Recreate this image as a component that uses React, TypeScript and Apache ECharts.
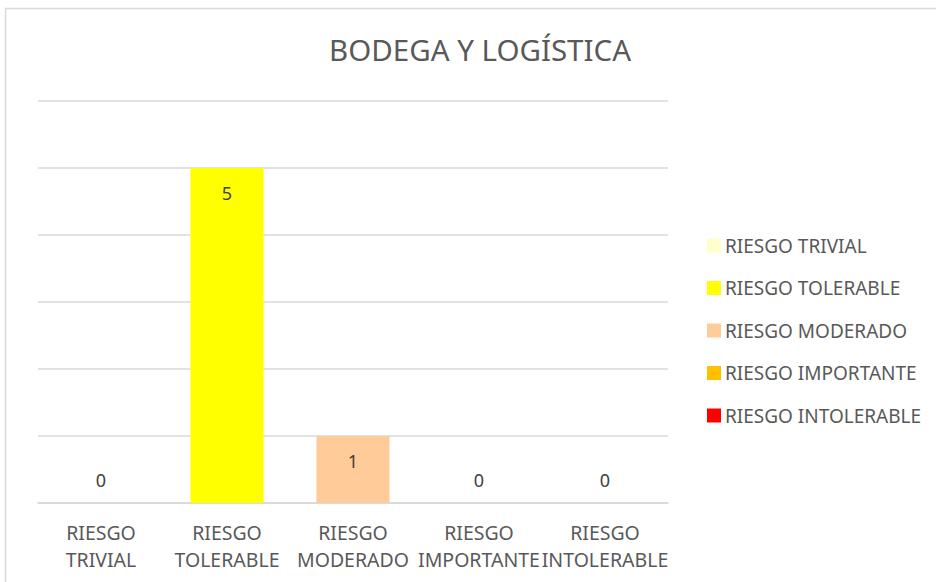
import React, { useEffect, useRef } from "react";
import * as echarts from "echarts";

const categories = ["RIESGO\nTRIVIAL", "RIESGO\nTOLERABLE", "RIESGO\nMODERADO", "RIESGO\nIMPORTANTE", "RIESGO\nINTOLERABLE"];
const seriesNames = ["RIESGO TRIVIAL", "RIESGO TOLERABLE", "RIESGO MODERADO", "RIESGO IMPORTANTE", "RIESGO INTOLERABLE"];
const values = [0, 5, 1, 0, 0];
const colors = ["#FFFFCC", "#FFFF00", "#FFCC99", "#FFC000", "#FF0000"];
const yTicks = [0, 1, 2, 3, 4, 5, 6];

const FONT = "'Noto Sans', sans-serif";

export default function App() {
  const ref = useRef<HTMLDivElement>(null);
  useEffect(() => {
    document.body.style.margin = "0";
    const chart = echarts.init(ref.current!, undefined, { renderer: "svg" });
    const series = seriesNames.map((name, i) => ({
      name,
      type: "bar",
      stack: "all",
      barWidth: "58%",
      itemStyle: { color: colors[i] },
      data: categories.map((_, j) =>
        j === i
          ? {
              value: values[i],
              label: {
                show: true,
                position: values[i] === 0 ? "insideBottom" : "insideTop",
                distance: values[i] === 0 ? 14 : 16,
                color: "#404040",
                fontSize: 18,
                fontFamily: FONT,
              },
            }
          : null
      ),
    }));
    chart.setOption({
      animation: false,
      backgroundColor: "#fff",
      textStyle: { fontFamily: FONT },
      title: {
        text: "BODEGA Y LOGÍSTICA",
        left: 475,
        textAlign: "center",
        top: 29,
        textStyle: { fontSize: 29.5, fontWeight: "normal", color: "#595959", fontFamily: FONT },
      },
      graphic: [
        {
          type: "rect",
          shape: { x: 5.5, y: 8.5, width: 1000, height: 1000 },
          style: { fill: "none", stroke: "#d9d9d9", lineWidth: 1.5 },
          silent: true,
        },
      ],
      legend: {
        orient: "vertical",
        left: 707,
        top: 236,
        padding: 0,
        itemWidth: 14,
        itemHeight: 14,
        itemGap: 23.5,
        icon: "rect",
        data: seriesNames,
        textStyle: { fontSize: 19, color: "#595959", fontFamily: FONT, padding: [0, 0, 0, -1] },
      },
      grid: { left: 38, right: 268, top: 101, bottom: 79, containLabel: false },
      xAxis: {
        type: "category",
        data: categories,
        axisLine: { show: true, lineStyle: { color: "#d9d9d9", width: 1.5 } },
        axisTick: { show: false },
        axisLabel: {
          color: "#595959",
          fontSize: 19.5,
          lineHeight: 27,
          margin: 16,
          interval: 0,
          fontFamily: FONT,
        },
      },
      yAxis: {
        type: "value",
        min: 0,
        max: yTicks[yTicks.length - 1],
        interval: 1,
        axisLabel: { show: false },
        axisLine: { show: false },
        axisTick: { show: false },
        splitLine: { lineStyle: { color: "#d9d9d9", width: 1.5 } },
      },
      series,
    });
    return () => chart.dispose();
  }, []);
  return <div ref={ref} style={{ width: 936, height: 582 }} />;
}
